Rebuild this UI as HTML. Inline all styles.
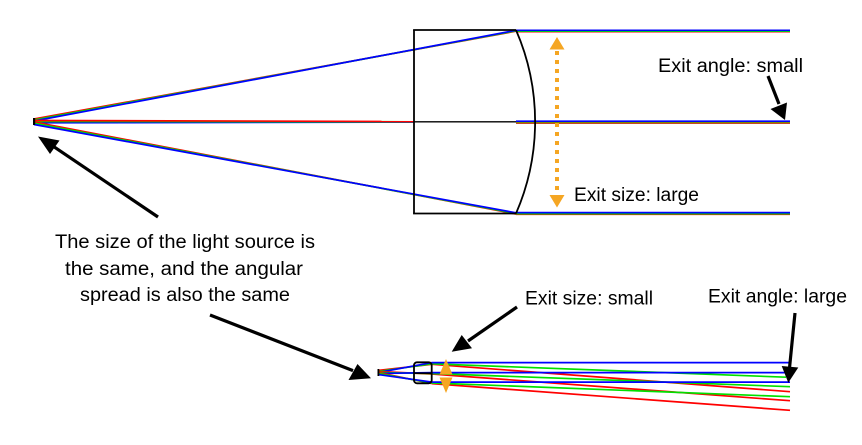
<!DOCTYPE html>
<html>
<head>
<meta charset="utf-8">
<style>
  html, body { margin: 0; padding: 0; background: #fff; }
  svg { display: block; }
  text { font-family: "Liberation Sans", Arial, sans-serif; font-size: 19px; fill: #000; }
</style>
</head>
<body>
<svg width="862" height="445" viewBox="0 0 862 445" xmlns="http://www.w3.org/2000/svg">
  <rect x="0" y="0" width="862" height="445" fill="#fff"/>

  <!-- ===== TOP DIAGRAM ===== -->
  <g fill="none" stroke-width="1.7">
    <!-- upper rays -->
    <line x1="34" y1="119" x2="516" y2="31.2" stroke="#ff0000"/>
    <line x1="34" y1="120" x2="516" y2="30.8" stroke="#00e000"/>
    <line x1="34" y1="121" x2="516" y2="30.3" stroke="#0000ff"/>
    <!-- center rays -->
    <line x1="34" y1="122.8" x2="414" y2="122.1" stroke="#0000ff"/>
    <line x1="34" y1="121.5" x2="414" y2="121.8" stroke="#00e000"/>
    <line x1="34" y1="120.5" x2="414" y2="121.5" stroke="#ff0000"/>
    <!-- lower rays -->
    <line x1="34" y1="122" x2="516" y2="214" stroke="#ff0000"/>
    <line x1="34" y1="123.2" x2="516" y2="213.5" stroke="#00e000"/>
    <line x1="34" y1="124.5" x2="516" y2="212.8" stroke="#0000ff"/>

    <!-- exit rays -->
    <line x1="516" y1="31.6" x2="790" y2="31.6" stroke="#ff0000"/>
    <line x1="516" y1="31.1" x2="790" y2="31.1" stroke="#00e000"/>
    <line x1="516" y1="30.3" x2="790" y2="30.3" stroke="#0000ff"/>

    <line x1="516" y1="123" x2="790" y2="123" stroke="#cc2200"/>
    <line x1="516" y1="122.3" x2="790" y2="122.3" stroke="#7a8a00"/>
    <line x1="516" y1="121.2" x2="790" y2="121.2" stroke="#0000ff"/>

    <line x1="516" y1="214.3" x2="790" y2="214.3" stroke="#ff0000"/>
    <line x1="516" y1="213.7" x2="790" y2="213.7" stroke="#00e000"/>
    <line x1="516" y1="212.6" x2="790" y2="212.6" stroke="#0000ff"/>
  </g>

  <!-- top lens -->
  <g fill="none" stroke="#000" stroke-width="1.8">
    <line x1="414" y1="30" x2="414" y2="213.5"/>
    <line x1="413.1" y1="30" x2="516" y2="30"/>
    <line x1="413.1" y1="213.5" x2="516" y2="213.5"/>
    <path d="M516,30 A229.8,229.8 0 0 1 516,213.5"/>
    <line x1="414" y1="121.8" x2="516" y2="121.8" stroke-width="1.4"/>
  </g>
  <!-- top source -->
  <rect x="33" y="118" width="2.2" height="7" fill="#000"/>

  <!-- orange dotted double arrow (top) -->
  <line x1="557" y1="51" x2="557" y2="194" stroke="#f5a623" stroke-width="4" stroke-dasharray="4 5"/>
  <polygon points="557,37 549.5,49.5 564.5,49.5" fill="#f5a623"/>
  <polygon points="557,207.5 549.5,195 564.5,195" fill="#f5a623"/>

  <!-- ===== BOTTOM DIAGRAM ===== -->
  <g fill="none" stroke-width="1.7">
    <!-- pre-lens rays -->
    <line x1="378" y1="370.5" x2="432" y2="364.3" stroke="#ff0000"/>
    <line x1="378" y1="371.5" x2="432" y2="363.8" stroke="#00e000"/>
    <line x1="378" y1="372.5" x2="432" y2="362.6" stroke="#0000ff"/>

    <line x1="378" y1="371.5" x2="432" y2="374" stroke="#ff0000"/>
    <line x1="378" y1="372.5" x2="432" y2="373.5" stroke="#00e000"/>
    <line x1="378" y1="373.5" x2="432" y2="372.6" stroke="#0000ff"/>

    <line x1="378" y1="372.5" x2="432" y2="383.6" stroke="#ff0000"/>
    <line x1="378" y1="373.5" x2="432" y2="383" stroke="#00e000"/>
    <line x1="378" y1="374.5" x2="432" y2="382.1" stroke="#0000ff"/>

    <!-- exit rays -->
    <line x1="432" y1="364.3" x2="790" y2="391.7" stroke="#ff0000"/>
    <line x1="432" y1="374" x2="790" y2="400.7" stroke="#ff0000"/>
    <line x1="432" y1="383.6" x2="790" y2="410.3" stroke="#ff0000"/>

    <line x1="432" y1="363.8" x2="786" y2="377.2" stroke="#00e000"/>
    <line x1="432" y1="373.5" x2="790" y2="386.7" stroke="#00e000"/>
    <line x1="432" y1="383" x2="790" y2="396.7" stroke="#00e000"/>

    <line x1="432" y1="362.6" x2="790" y2="362.6" stroke="#0000ff" stroke-width="1.8"/>
    <line x1="432" y1="372.6" x2="790" y2="372.6" stroke="#0000ff" stroke-width="1.8"/>
    <line x1="432" y1="382.1" x2="790" y2="382.1" stroke="#0000ff" stroke-width="1.8"/>
  </g>

  <!-- bottom lens -->
  <rect x="414" y="362.3" width="17.7" height="21" rx="3" ry="3" fill="none" stroke="#000" stroke-width="1.8"/>
  <line x1="414" y1="373.2" x2="432" y2="373.2" stroke="#000" stroke-width="1.6"/>
  <!-- bottom source -->
  <rect x="377.5" y="369" width="1.8" height="7" fill="#000"/>

  <!-- orange small double arrow (bottom) -->
  <polygon points="446,359 439.5,374.5 452.5,374.5" fill="#f5a623"/>
  <polygon points="446,393 439.5,377.5 452.5,377.5" fill="#f5a623"/>

  <!-- ===== BLACK ARROWS ===== -->
  <g stroke="#000" stroke-width="3.2" fill="none" stroke-linecap="butt">
    <line x1="158" y1="217" x2="54" y2="146.8"/>
    <line x1="210" y1="315" x2="353" y2="370.6"/>
    <line x1="768" y1="76" x2="779" y2="104"/>
    <line x1="517" y1="307" x2="468" y2="341"/>
    <line x1="795" y1="313" x2="789.6" y2="367"/>
  </g>
  <g fill="#000">
    <polygon points="38,136.5 59.5,140.5 50,154"/>
    <polygon points="371,378.3 348.5,380 357.5,364"/>
    <polygon points="785,120 770.5,109 787,102.5"/>
    <polygon points="451.7,351.7 472,348.3 461.7,335"/>
    <polygon points="788.3,382.7 781.7,366 798.3,367.5"/>
  </g>

  <!-- ===== TEXT ===== -->
  <text x="658" y="72" textLength="145" lengthAdjust="spacingAndGlyphs">Exit angle: small</text>
  <text x="574" y="201" textLength="125" lengthAdjust="spacingAndGlyphs">Exit size: large</text>
  <text x="55" y="248" textLength="260" lengthAdjust="spacingAndGlyphs">The size of the light source is</text>
  <text x="65" y="275" textLength="238" lengthAdjust="spacingAndGlyphs">the same, and the angular</text>
  <text x="80" y="301" textLength="210" lengthAdjust="spacingAndGlyphs">spread is also the same</text>
  <text x="525" y="304.5" textLength="128" lengthAdjust="spacingAndGlyphs">Exit size: small</text>
  <text x="708" y="302.7" textLength="139" lengthAdjust="spacingAndGlyphs">Exit angle: large</text>
</svg>
</body>
</html>
